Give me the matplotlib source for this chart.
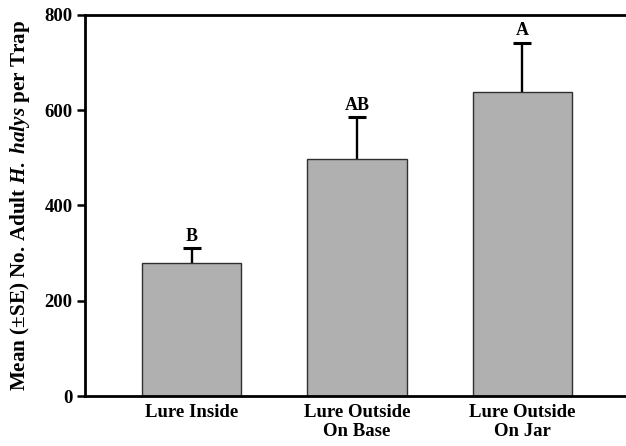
import matplotlib
matplotlib.use("Agg")
import matplotlib.pyplot as plt

categories = ["Lure Inside", "Lure Outside\nOn Base", "Lure Outside\nOn Jar"]
means = [279, 498, 638]
se = [31, 87, 104]
letters = ["B", "AB", "A"]

plt.rcParams['font.family'] = ['Liberation Serif', 'DejaVu Serif']
plt.rcParams['mathtext.fontset'] = 'custom'
plt.rcParams['mathtext.rm'] = 'Liberation Serif:bold'
plt.rcParams['mathtext.it'] = 'Liberation Serif:italic:bold'
plt.rcParams['mathtext.bf'] = 'Liberation Serif:bold'

fig = plt.figure(figsize=(6.26, 4.46), dpi=100)
ax = fig.add_axes([0.1358, 0.1121, 0.8642, 0.8543])

x = list(range(len(categories)))
ax.bar(x, means, width=0.6, color='#b0b0b0', edgecolor='#303030', linewidth=1.0, zorder=2)
_, caplines, _ = ax.errorbar(x, means, yerr=[[0]*len(se), se], fmt='none', ecolor='black',
                             elinewidth=1.7, capsize=6.5, capthick=2.2, zorder=1)
# keep only the upper caps
for cl in caplines:
    yd = cl.get_ydata()
    if all(abs(a - b) < 1e-9 for a, b in zip(yd, means)):
        cl.set_visible(False)

for xi, m, s, l in zip(x, means, se, letters):
    ax.text(xi, m + s + 8, l, ha='center', va='bottom', fontsize=13, fontweight='bold')

ax.set_xlim(-0.648, 2.63)
ax.set_ylim(0, 800)
ax.set_yticks([0, 200, 400, 600, 800])
ax.set_xticks(x)
ax.set_xticklabels(categories, fontsize=13.5, fontweight='bold', linespacing=1.15)
ax.tick_params(axis='x', length=0, pad=6)
ax.tick_params(axis='y', length=6, width=1.8, direction='out', labelsize=13.5, pad=3)
for lab in ax.get_yticklabels():
    lab.set_fontweight('bold')

ax.spines['right'].set_visible(False)
for s in ['left', 'top', 'bottom']:
    ax.spines[s].set_linewidth(2.0)

ax.set_ylabel(r'Mean (±SE) No. Adult $\mathit{H.\ halys}$ per Trap', fontsize=15.2,
              fontweight='bold', labelpad=9)

fig.savefig('out.png', dpi=100)
